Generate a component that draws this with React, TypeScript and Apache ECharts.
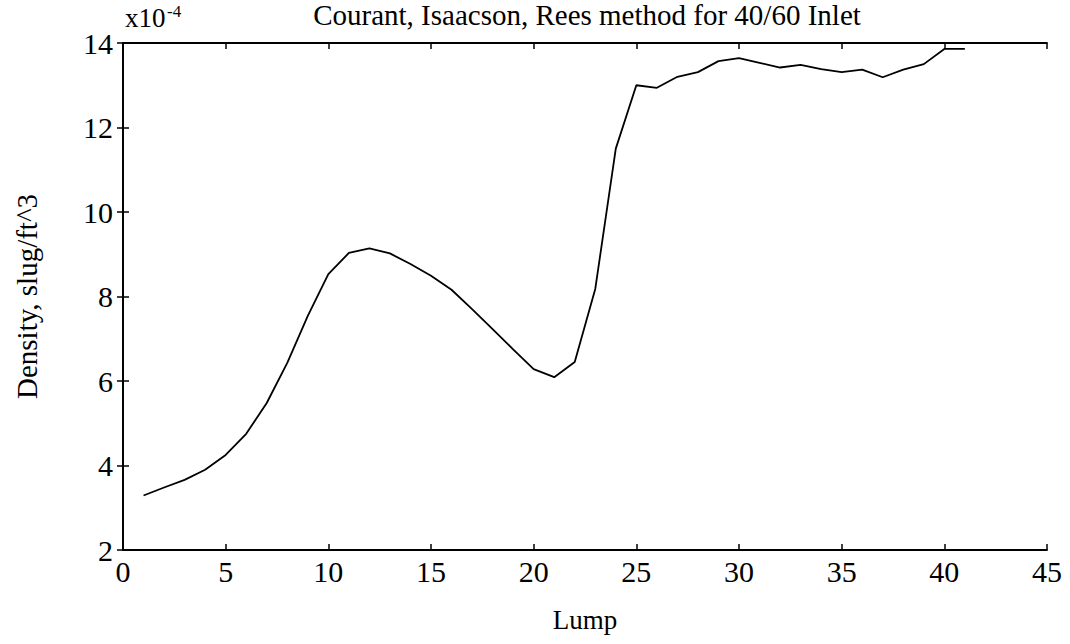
import React, { useEffect, useRef } from "react";
import * as echarts from "echarts";

const lumps = [1, 2, 3, 4, 5, 6, 7, 8, 9, 10, 11, 12, 13, 14, 15, 16, 17, 18, 19, 20, 21, 22, 23, 24, 25, 26, 27, 28, 29, 30, 31, 32, 33, 34, 35, 36, 37, 38, 39, 40, 41];
const density = [3.29, 3.48, 3.66, 3.9, 4.25, 4.75, 5.48, 6.43, 7.54, 8.53, 9.03, 9.14, 9.02, 8.77, 8.49, 8.16, 7.7, 7.23, 6.75, 6.28, 6.09, 6.45, 8.18, 11.5, 13.0, 12.94, 13.2, 13.31, 13.57, 13.64, 13.53, 13.42, 13.48, 13.38, 13.31, 13.37, 13.19, 13.37, 13.5, 13.86, 13.86];

const xTicks = { min: 0, max: 45, interval: 5 };
const yTicks = { min: 2, max: 14, interval: 2 };

const titleText = "Courant, Isaacson, Rees method for 40/60 Inlet";
const yLabel = "Density, slug/ft^3";
const xLabel = "Lump";

const FONT = "'Liberation Serif', 'DejaVu Serif', serif";

export default function App() {
  const ref = useRef<HTMLDivElement>(null);
  useEffect(() => {
    if (!ref.current) return;
    const chart = echarts.init(ref.current, null, { renderer: "svg" });
    const axisCommon = {
      axisLine: { show: true, lineStyle: { color: "#000", width: 1.8 } },
      axisTick: { show: true, inside: true, length: 6, lineStyle: { color: "#000", width: 1.5 } },
      splitLine: { show: false },
    };
    chart.setOption({
      animation: false,
      backgroundColor: "#fff",
      grid: { left: 123, right: 23, top: 43, bottom: 94 },
      graphic: [
        {
          type: "text",
          x: 587,
          y: 1,
          style: {
            text: titleText,
            textAlign: "center",
            textVerticalAlign: "top",
            lineHeight: 28,
            font: `29px ${FONT}`,
            fill: "#000",
          },
        },
        {
          type: "text",
          x: 125,
          y: 4,
          style: {
            text: "x10",
            textAlign: "left",
            textVerticalAlign: "top",
            lineHeight: 27,
            font: `27px ${FONT}`,
            fill: "#000",
          },
        },
        {
          type: "text",
          x: 167,
          y: 3,
          style: {
            text: "-4",
            textAlign: "left",
            textVerticalAlign: "top",
            font: `17px ${FONT}`,
            fill: "#000",
          },
        },
      ],
      xAxis: [
        {
          type: "value",
          position: "bottom",
          ...xTicks,
          name: xLabel,
          nameLocation: "middle",
          nameGap: 56,
          nameTextStyle: { fontFamily: FONT, fontSize: 27, color: "#000" },
          axisLabel: { fontFamily: FONT, fontSize: 30, color: "#000", margin: 6 },
          ...axisCommon,
        },
        {
          type: "value",
          position: "top",
          ...xTicks,
          axisLabel: { show: false },
          ...axisCommon,
        },
      ],
      yAxis: [
        {
          type: "value",
          position: "left",
          ...yTicks,
          name: yLabel,
          nameLocation: "middle",
          nameGap: 82,
          nameRotate: 90,
          nameTextStyle: { fontFamily: FONT, fontSize: 29, color: "#000" },
          axisLabel: { fontFamily: FONT, fontSize: 30, color: "#000", margin: 10 },
          ...axisCommon,
        },
        {
          type: "value",
          position: "right",
          ...yTicks,
          axisLabel: { show: false },
          ...axisCommon,
        },
      ],
      series: [
        {
          type: "line",
          data: lumps.map((l, i) => [l, density[i]]),
          showSymbol: false,
          lineStyle: { color: "#000", width: 1.8 },
          xAxisIndex: 0,
          yAxisIndex: 0,
        },
      ],
    });
    return () => chart.dispose();
  }, []);
  return <div ref={ref} style={{ width: 1070, height: 644, position: "absolute", left: 0, top: 0 }} />;
}
